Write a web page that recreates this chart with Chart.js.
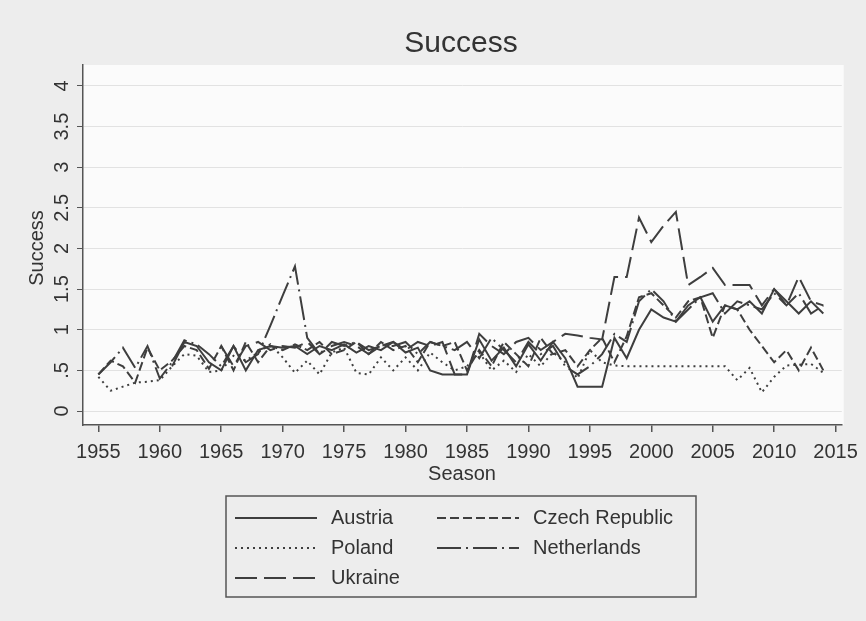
<!DOCTYPE html>
<html>
<head>
<meta charset="utf-8">
<title>Success</title>
<script src="https://cdn.jsdelivr.net/npm/chart.js@4.4.1/dist/chart.umd.min.js"></script>
<style>
  html, body { margin: 0; padding: 0; background: #ececec; }
  #wrap { width: 866px; height: 621px; }
</style>
</head>
<body>
<div id="wrap"><canvas id="successChart" width="866" height="621"></canvas></div>
<script>
// seasons on the x axis
const seasons = [
  1955, 1956, 1957, 1958, 1959, 1960, 1961, 1962, 1963, 1964,
  1965, 1966, 1967, 1968, 1969, 1970, 1971, 1972, 1973, 1974,
  1975, 1976, 1977, 1978, 1979, 1980, 1981, 1982, 1983, 1984,
  1985, 1986, 1987, 1988, 1989, 1990, 1991, 1992, 1993, 1994,
  1995, 1996, 1997, 1998, 1999, 2000, 2001, 2002, 2003, 2004,
  2005, 2006, 2007, 2008, 2009, 2010, 2011, 2012, 2013, 2014
];

// success by country and season (null = no entry that season)
const austria = [
  null, null, null, null, null, null, 0.55, 0.85, 0.80, 0.60,
  0.50, 0.80, 0.50, 0.75, 0.80, 0.78, 0.80, 0.70, 0.80, 0.75,
  0.82, 0.72, 0.80, 0.75, 0.85, 0.72, 0.78, 0.50, 0.45, 0.45,
  0.45, 0.88, 0.62, 0.78, 0.55, 0.82, 0.62, 0.85, 0.65, 0.30,
  0.30, 0.30, 0.90, 0.65, 1.00, 1.25, 1.15, 1.10, 1.30, 1.40,
  1.10, 1.30, 1.25, 1.35, 1.20, 1.50, 1.35, 1.20, 1.35, 1.20
];
const czechRepublic = [
  0.45, 0.62, 0.55, 0.35, 0.78, 0.50, 0.62, 0.80, 0.75, 0.52,
  0.80, 0.50, 0.85, 0.60, 0.80, 0.75, 0.82, 0.75, 0.85, 0.70,
  0.75, 0.85, 0.70, 0.85, 0.75, 0.80, 0.60, 0.85, 0.80, 0.85,
  0.50, 0.75, 0.55, 0.85, 0.70, 0.55, 0.90, 0.70, 0.75, 0.55,
  0.75, 0.90, 0.60, 0.92, 1.40, 1.45, 1.30, 1.15, 1.35, 1.40,
  0.90, 1.30, 1.25, 1.00, 0.80, 0.60, 0.75, 0.50, 0.78, 0.50
];
const poland = [
  0.42, 0.25, 0.30, 0.35, 0.36, 0.38, 0.55, 0.70, 0.68, 0.48,
  0.50, 0.68, 0.62, 0.72, 0.82, 0.66, 0.47, 0.62, 0.45, 0.72,
  0.78, 0.47, 0.45, 0.66, 0.50, 0.66, 0.50, 0.72, 0.60, 0.50,
  0.55, 0.72, 0.50, 0.62, 0.48, 0.70, 0.55, 0.72, 0.60, 0.40,
  0.75, 0.60, 0.56, 0.55, 0.55, 0.55, 0.55, 0.55, 0.55, 0.55,
  0.55, 0.55, 0.38, 0.53, 0.23, 0.42, 0.56, 0.57, 0.58, 0.47
];
const netherlands = [
  0.45, 0.60, 0.78, 0.53, 0.80, 0.40, 0.60, 0.87, 0.82, 0.70,
  0.55, 0.80, 0.60, 0.70, 1.05, 1.42, 1.78, 0.90, 0.70, 0.85,
  0.80, 0.85, 0.75, 0.80, 0.80, 0.85, 0.70, 0.85, 0.80, 0.75,
  0.85, 0.65, 0.90, 0.75, 0.60, 0.85, 0.70, 0.80, 0.55, 0.45,
  0.55, 0.70, 0.95, 0.85, 1.35, 1.50, 1.35, 1.10, 1.25, 1.40,
  1.45, 1.20, 1.35, 1.30, 1.25, 1.45, 1.30, 1.45, 1.20, 1.30
];
const ukraine = [
  null, null, null, null, null, null, null, null, null, null,
  0.80, 0.55, 0.80, 0.85, 0.75, 0.80, 0.78, 0.85, 0.70, 0.80,
  0.85, 0.80, 0.70, 0.80, 0.85, 0.75, 0.85, 0.80, 0.85, 0.45,
  0.45, 0.95, 0.80, 0.70, 0.85, 0.90, 0.75, 0.85, 0.95, 0.93,
  0.90, 0.88, 1.65, 1.65, 2.38, 2.08, 2.28, 2.45, 1.55, 1.65,
  1.76, 1.55, 1.55, 1.55, 1.30, 1.50, 1.30, 1.65, 1.35, 1.30
];

const countries = ["Austria", "Czech Republic", "Poland", "Netherlands", "Ukraine"];
const seriesValues = [austria, czechRepublic, poland, netherlands, ukraine];
const dashPatterns = [[], [9, 4], [2, 4], [24, 5, 2, 5], [22, 7]];

const xTicks = [1955, 1960, 1965, 1970, 1975, 1980, 1985, 1990, 1995, 2000, 2005, 2010, 2015];
const yTicks = [0, 0.5, 1, 1.5, 2, 2.5, 3, 3.5, 4];
const yTickLabels = ["0", ".5", "1", "1.5", "2", "2.5", "3", "3.5", "4"];

const ink = "#3e3e3e";
const axisInk = "#555";
const font = "'Liberation Sans', Arial, sans-serif";

// legend grid: column x for line start, row y
const legendCols = [235, 437];
const legendRows = [518, 548, 578];

const stataLook = {
  id: "stataLook",
  beforeDraw(chart) {
    const { ctx, chartArea: a } = chart;
    ctx.save();
    ctx.fillStyle = "#ededed";
    ctx.fillRect(0, 0, chart.width, chart.height);
    ctx.fillStyle = "#fbfbfb";
    ctx.fillRect(a.left, a.top, a.right - a.left + 2, a.bottom - a.top);
    ctx.restore();
  },
  afterDraw(chart) {
    const { ctx } = chart;
    const y = chart.scales.y;
    ctx.save();
    ctx.fillStyle = "#333";

    // title
    ctx.font = "30px " + font;
    ctx.textAlign = "center";
    ctx.textBaseline = "middle";
    ctx.fillText("Success", 461, 44);

    // rotated y labels
    ctx.font = "20px " + font;
    yTicks.forEach((v, i) => {
      ctx.save();
      ctx.translate(62, y.getPixelForValue(v));
      ctx.rotate(-Math.PI / 2);
      ctx.fillText(yTickLabels[i], 0, 0);
      ctx.restore();
    });

    // axis titles
    ctx.save();
    ctx.translate(37, 248);
    ctx.rotate(-Math.PI / 2);
    ctx.fillText("Success", 0, 0);
    ctx.restore();
    ctx.fillText("Season", 462, 474);

    // legend
    ctx.strokeStyle = axisInk;
    ctx.lineWidth = 1.5;
    ctx.strokeRect(226, 496, 470, 101);
    chart.data.datasets.forEach((ds, i) => {
      const col = i % 2, row = Math.floor(i / 2);
      const lx = legendCols[col], ly = legendRows[row];
      ctx.strokeStyle = ds.borderColor;
      ctx.lineWidth = ds.borderWidth;
      ctx.setLineDash(ds.borderDash);
      ctx.beginPath();
      ctx.moveTo(lx, ly);
      ctx.lineTo(lx + 82, ly);
      ctx.stroke();
      ctx.setLineDash([]);
      ctx.textAlign = "left";
      ctx.fillText(ds.label, lx + 96, ly);
    });
    ctx.restore();
  }
};

const ctx = document.getElementById("successChart").getContext("2d");
const successChart = new Chart(ctx, {
  type: "line",
  data: {
    datasets: countries.map((name, k) => ({
      label: name,
      data: seasons.map((s, i) => ({ x: s, y: seriesValues[k][i] })),
      borderColor: ink,
      borderWidth: 2,
      borderDash: dashPatterns[k],
      pointRadius: 0,
      tension: 0,
      spanGaps: false,
      fill: false
    }))
  },
  options: {
    responsive: false,
    animation: false,
    devicePixelRatio: 1,
    layout: { padding: { top: 65, left: 0, right: 20, bottom: 146 } },
    plugins: { legend: { display: false }, tooltip: { enabled: false } },
    scales: {
      x: {
        type: "linear",
        min: 1953.75,
        max: 2015.5,
        afterBuildTicks: scale => { scale.ticks = xTicks.map(v => ({ value: v })); },
        afterFit: scale => { scale.height = 50; },
        grid: { display: true, drawOnChartArea: false, drawTicks: true, tickLength: 7, color: axisInk, lineWidth: 1.5 },
        border: { display: true, color: axisInk, width: 1.5 },
        ticks: {
          autoSkip: false, maxRotation: 0, padding: 8,
          color: "#333", font: { family: font, size: 20 },
          callback: v => String(v)
        }
      },
      y: {
        type: "linear",
        min: -0.172,
        max: 4.258,
        afterBuildTicks: scale => { scale.ticks = yTicks.map(v => ({ value: v })); },
        afterFit: scale => { scale.width = 83; },
        grid: { display: true, color: "#e2e2e2", lineWidth: 1, drawTicks: true, tickLength: 6, tickColor: axisInk },
        border: { display: true, color: axisInk, width: 1.5 },
        ticks: { display: false }
      }
    }
  },
  plugins: [stataLook]
});
</script>
</body>
</html>
